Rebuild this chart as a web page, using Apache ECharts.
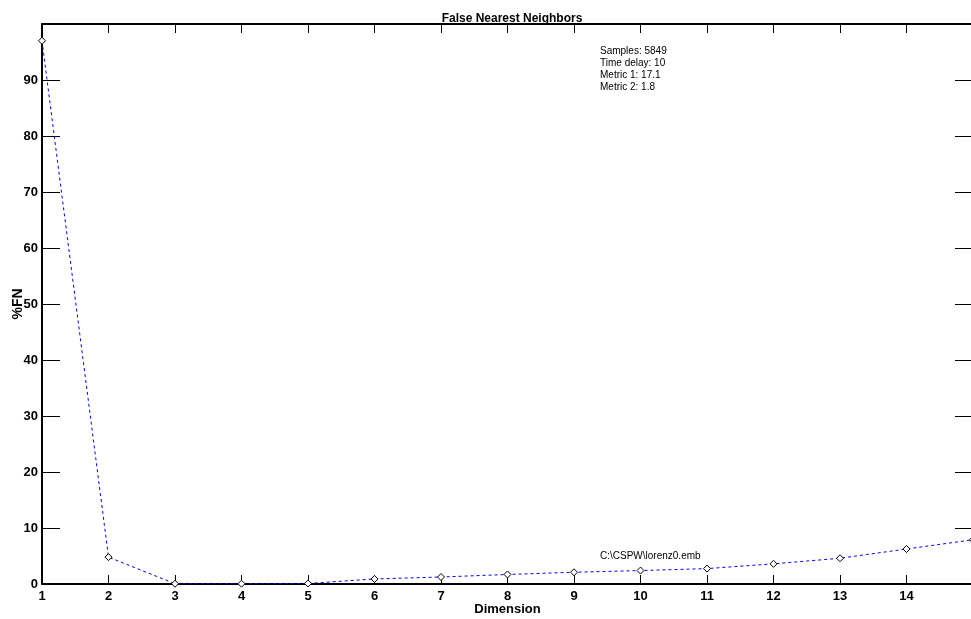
<!DOCTYPE html>
<html><head><meta charset="utf-8">
<script src="https://cdn.jsdelivr.net/npm/echarts@6/dist/echarts.min.js"></script>
<style>html,body{margin:0;padding:0;background:#fff}#c{width:971px;height:619px}</style>
</head><body><div id="c"></div>
<script>
const dimensions = [1,2,3,4,5,6,7,8,9,10,11,12,13,14,15];
const pctFN = [97.0,4.8,0.05,0.05,0.1,0.9,1.25,1.7,2.1,2.4,2.75,3.6,4.6,6.25,7.9];
const yTicks = [0,10,20,30,40,50,60,70,80,90];
const infoLines = ['Samples: 5849','Time delay: 10','Metric 1: 17.1','Metric 2: 1.8'];
const fileLabel = 'C:\\CSPW\\lorenz0.emb';
const titleText = 'False Nearest Neighbors';

const chart = echarts.init(document.getElementById('c'), null, {renderer:'canvas'});
const bold = {fontFamily:'Liberation Sans, Arial, sans-serif', fontWeight:'bold', color:'#000'};
const axisBase = {
  axisLine:{show:true, onZero:false, lineStyle:{color:'#000', width:2}},
  splitLine:{show:false}
};
chart.setOption({
  backgroundColor:'#fff',
  animation:false,
  title:{text:titleText, left:507, top:8, textAlign:'center',
    textStyle:Object.assign({fontSize:12}, bold)},
  grid:{left:42, top:24, width:931, height:560, containLabel:false, outerBoundsMode:'none'},
  xAxis:[
    Object.assign({type:'value', min:1, max:15, interval:1, position:'bottom',
      name:'Dimension', nameLocation:'middle', nameGap:19, nameMoveOverlap:false,
      nameTextStyle:Object.assign({fontSize:13}, bold),
      axisTick:{show:true, inside:true, length:9, lineStyle:{color:'#000', width:1}},
      axisLabel:Object.assign({fontSize:13, margin:6, formatter:v=> (v<15? String(v):'')}, bold)}, axisBase),
    Object.assign({type:'value', min:1, max:15, interval:1, position:'top',
      axisTick:{show:true, inside:true, length:9, lineStyle:{color:'#000', width:1}},
      axisLabel:{show:false}}, axisBase)
  ],
  yAxis:[
    Object.assign({type:'value', min:0, max:100, interval:10, position:'left',
      name:'%FN', nameLocation:'middle', nameGap:17, nameRotate:90, nameMoveOverlap:false,
      nameTextStyle:Object.assign({fontSize:14}, bold),
      axisTick:{show:true, inside:true, length:18, lineStyle:{color:'#000', width:1}},
      axisLabel:Object.assign({fontSize:13, margin:4, formatter:v=> (yTicks.indexOf(v)>=0? String(v):'')}, bold)}, axisBase),
    Object.assign({type:'value', min:0, max:100, interval:10, position:'right',
      axisTick:{show:true, inside:true, length:18, lineStyle:{color:'#000', width:1}},
      axisLabel:{show:false}}, axisBase)
  ],
  series:[{
    type:'line',
    data:dimensions.map((d,i)=>[d,pctFN[i]]),
    symbol:'diamond', symbolSize:7, showAllSymbol:true,
    lineStyle:{color:'#0000ff', width:1, type:[3,3]},
    itemStyle:{color:'#fff', borderColor:'#000', borderWidth:1},
    z:3
  }],
  graphic:[
    {type:'text', left:600, top:45, style:{text:infoLines.join('\n'), lineHeight:12,
      font:'10px Liberation Sans, Arial, sans-serif', fill:'#000'}},
    {type:'text', left:600, top:551, style:{text:fileLabel,
      font:'10px Liberation Sans, Arial, sans-serif', fill:'#000'}}
  ]
});
</script></body></html>
